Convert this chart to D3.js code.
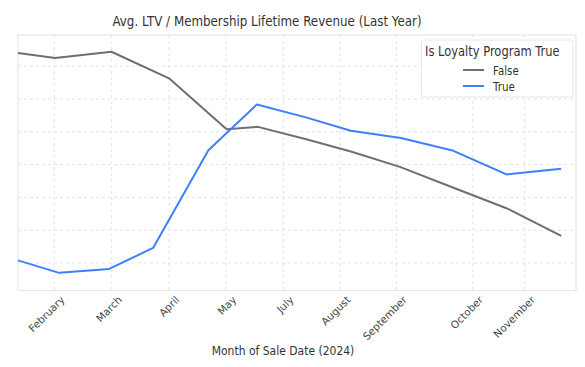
<!DOCTYPE html>
<html>
<head>
<meta charset="utf-8">
<script src="https://cdn.jsdelivr.net/npm/d3@7"></script>
<style>
  html, body { margin: 0; padding: 0; background: #fff; }
  text { font-family: "DejaVu Sans", sans-serif; }
</style>
</head>
<body>
<svg id="chart" width="585" height="367"></svg>
<script>
// ---- data (x in months from first observation, y in LTV units) ----
const falseX = [0, 0.65, 1.64, 2.65, 3.66, 4.21, 5.04, 5.84, 6.70, 7.63, 8.57, 9.53];
const falseY = [740, 725, 744, 663, 508, 515, 478, 440, 393, 330, 267, 183];
const trueX  = [0, 0.72, 1.60, 2.37, 3.34, 4.19, 5.05, 5.84, 6.72, 7.64, 8.57, 9.53];
const trueY  = [108, 70, 82, 146, 444, 583, 544, 503, 481, 442, 370, 387];
const tickPos    = [0.637, 1.644, 2.65, 3.65, 4.655, 5.65, 6.64, 7.98, 8.89];
const tickLabels = ["February", "March", "April", "May", "July", "August", "September", "October", "November"];
const yGrid = [100, 200, 300, 400, 500, 600, 700];
const seriesNames = ["False", "True"];
const seriesColors = ["#6f6f6f", "#3c80fb"];

const svg = d3.select("#chart");
const L = 18, R = 576, T = 35, B = 290.5;
const x = d3.scaleLinear().domain([0, 9.79]).range([L, R]);
const y = d3.scaleLinear().domain([16.2, 795]).range([B, T]);

// grid
const g = svg.append("g");
g.selectAll(".hg").data(yGrid).join("line")
  .attr("x1", L).attr("x2", R)
  .attr("y1", d => y(d)).attr("y2", d => y(d))
  .attr("stroke", "#e3e3e3").attr("stroke-width", 1).attr("stroke-dasharray", "3,3");
g.selectAll(".vg").data(tickPos).join("line")
  .attr("x1", d => x(d)).attr("x2", d => x(d))
  .attr("y1", T).attr("y2", B)
  .attr("stroke", "#e3e3e3").attr("stroke-width", 1).attr("stroke-dasharray", "3,3");

// frame
svg.append("rect").attr("x", L).attr("y", T).attr("width", R - L).attr("height", B - T)
  .attr("fill", "none").attr("stroke", "#e6e6e6").attr("stroke-width", 1.2);

// lines
const line = d3.line().x(d => x(d[0])).y(d => y(d[1]));
const series = [
  d3.zip(falseX, falseY),
  d3.zip(trueX, trueY)
];
svg.append("g").selectAll("path").data(series).join("path")
  .attr("d", line)
  .attr("fill", "none")
  .attr("stroke", (d, i) => seriesColors[i])
  .attr("stroke-width", 2)
  .attr("stroke-linejoin", "round");

// x tick labels
const xt = svg.append("g");
xt.selectAll("text").data(tickPos).join("text")
  .attr("transform", d => `translate(${x(d) + 11},${B + 10}) rotate(-45)`)
  .attr("text-anchor", "end")
  .attr("font-size", 10.3)
  .attr("fill", "#444")
  .text((d, i) => tickLabels[i]);

// title
svg.append("text").attr("text-anchor", "middle")
  .attr("transform", "translate(267,26) scale(0.82,1)")
  .attr("font-size", 14.5).attr("fill", "#333")
  .text("Avg. LTV / Membership Lifetime Revenue (Last Year)");

// x axis label
svg.append("text").attr("text-anchor", "middle")
  .attr("transform", "translate(283,355) scale(0.83,1)")
  .attr("font-size", 13).attr("fill", "#333")
  .text("Month of Sale Date (2024)");

// legend
const lg = svg.append("g");
lg.append("rect").attr("x", 421.5).attr("y", 40).attr("width", 151.5).attr("height", 57)
  .attr("rx", 2).attr("fill", "#fff").attr("fill-opacity", 0.85)
  .attr("stroke", "#e6e6e6").attr("stroke-width", 1);
lg.append("text").attr("transform", "translate(425,56) scale(0.82,1)")
  .attr("font-size", 14).attr("fill", "#333")
  .text("Is Loyalty Program True");
const items = lg.selectAll(".it").data(seriesNames).join("g")
  .attr("transform", (d, i) => `translate(0,${70 + i * 16})`);
items.append("line").attr("x1", 463).attr("x2", 484).attr("y1", 0).attr("y2", 0)
  .attr("stroke", (d, i) => seriesColors[i]).attr("stroke-width", 2);
items.append("text").attr("transform", "translate(493,4.5) scale(0.82,1)")
  .attr("font-size", 12.5).attr("fill", "#333")
  .text(d => d);
</script>
</body>
</html>
